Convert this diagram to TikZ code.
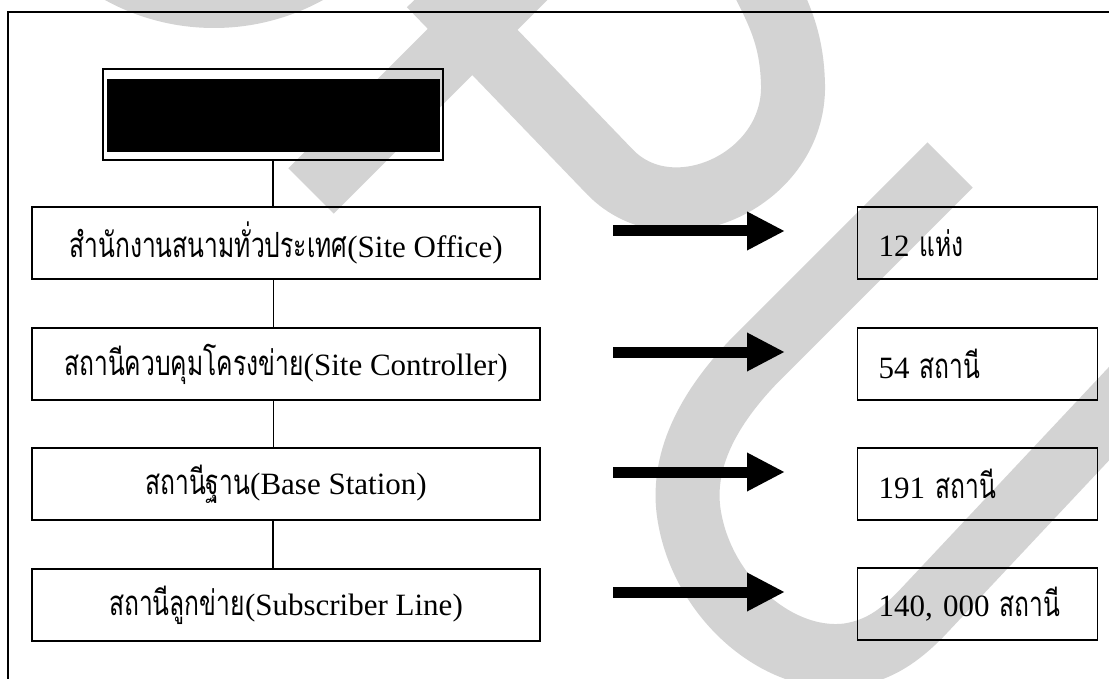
\documentclass[tikz,border=0pt]{standalone}
\usepackage{fontspec}
\setmainfont{Liberation Serif}
\newfontfamily\thaifont[Script=Thai,Scale=1.12,FakeStretch=0.71]{Loma}
\usetikzlibrary{arrows.meta}
\definecolor{wmgray}{RGB}{211,211,211}
\tikzset{
  wm/.style={draw=wmgray, line width=64pt, line cap=butt},
  txt/.style={font=\fontsize{31}{36}\selectfont},
  lbox/.style={draw, line width=1.6pt, minimum width=508pt, minimum height=72pt, inner sep=0pt, txt},
  rbox/.style={draw, line width=1.6pt, minimum height=72pt, inner xsep=21pt, inner ysep=0pt, text width=198pt, align=left, txt},
  topbox/.style={draw, line width=1.8pt, minimum width=340pt, minimum height=91pt, inner sep=0pt},
  bigarrow/.style={line width=11pt, -{Triangle[length=38pt,width=36pt]}},
  thick link/.style={line width=1.6pt},
  thin link/.style={line width=0.8pt},
  frame/.style={line width=1.2pt}
}
\begin{document}
\begin{tikzpicture}[x=1pt,y=-1pt]
\useasboundingbox (0,0) rectangle (1109,679);
% watermark
\begin{scope}
\clip (0,0) rectangle (1109,679);
\fill[wmgray] (214,-198) circle[radius=226pt];
\draw[wm] (311,191) -- (545,-43);
\draw[wm] (430,-15) -- (610,172) .. controls (672,236) and (795,180) .. (793,85) .. controls (792,40) and (780,15) .. (762,-20);
\draw[wm] (950,165) -- (760,355) .. controls (700,415) and (680,470) .. (690,520) .. controls (705,600) and (780,665) .. (850,655) .. controls (880,650) and (900,635) .. (920,615) -- (1150,370);
\end{scope}
% frame
\draw[frame] (8,679) -- (8,12) -- (1109,12);
% top box
\node[topbox] (top) at (273,114.5) {};
\fill[black] ([xshift=5pt,yshift=-11pt]top.north west) rectangle ([xshift=-4pt,yshift=9pt]top.south east);
% left boxes
\node[lbox] (b1) at (286,243) {{\thaifont สำนักงานสนามทั่วประเทศ}(Site Office)};
\node[lbox] (b2) at (286,364) {{\thaifont สถานีควบคุมโครงข่าย}(Site Controller)};
\node[lbox] (b3) at (286,484) {{\thaifont สถานีฐาน}(Base Station)};
\node[lbox] (b4) at (286,605) {{\thaifont สถานีลูกข่าย}(Subscriber Line)};
% right boxes
\node[rbox] (r1) at (977.5,243) {12 {\thaifont แห่ง}};
\node[rbox] (r2) at (977.5,364) {54 {\thaifont สถานี}};
\node[rbox] (r3) at (977.5,484) {191 {\thaifont สถานี}};
\node[rbox] (r4) at (977.5,604) {140, 000 {\thaifont สถานี}};
% links
\draw[thick link] (top.south) -- (top.south |- b1.north);
\draw[thin link] (top.south |- b1.south) -- (top.south |- b2.north);
\draw[thin link] (top.south |- b2.south) -- (top.south |- b3.north);
\draw[thick link] (top.south |- b3.south) -- (top.south |- b4.north);
% arrows
\coordinate (a1s) at (613,231); \coordinate (a1e) at (785,231);
\coordinate (a2s) at (613,352); \coordinate (a2e) at (785,352);
\coordinate (a3s) at (613,472); \coordinate (a3e) at (785,472);
\coordinate (a4s) at (613,592); \coordinate (a4e) at (785,592);
\draw[bigarrow] (a1s) -- (a1e);
\draw[bigarrow] (a2s) -- (a2e);
\draw[bigarrow] (a3s) -- (a3e);
\draw[bigarrow] (a4s) -- (a4e);
\end{tikzpicture}
\end{document}
